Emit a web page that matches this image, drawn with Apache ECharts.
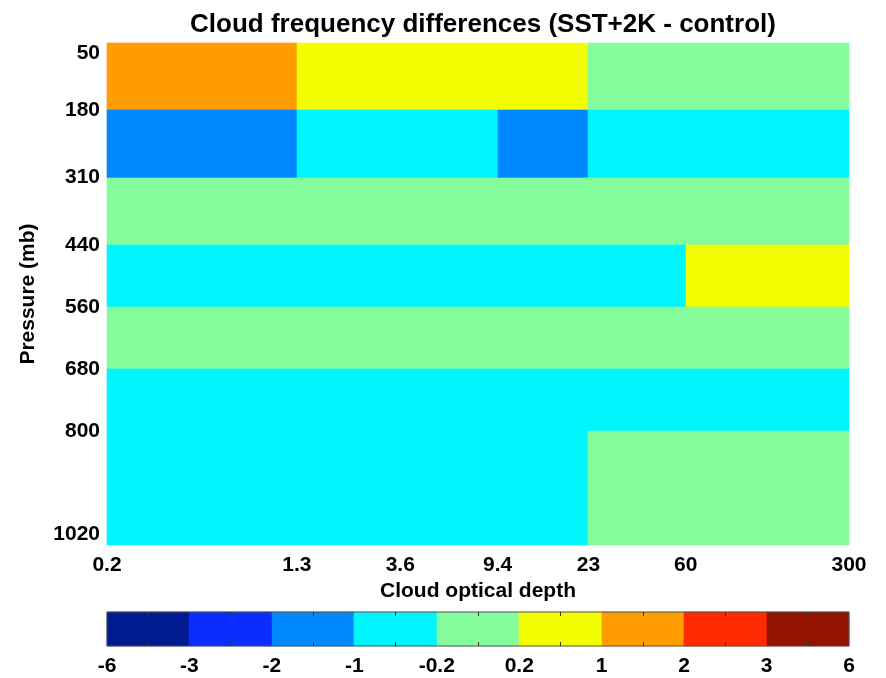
<!DOCTYPE html>
<html>
<head>
<meta charset="utf-8">
<script src="https://cdn.jsdelivr.net/npm/echarts@6/dist/echarts.min.js"></script>
<style>html,body{margin:0;padding:0;background:#fff}#c{width:886px;height:678px}</style>
</head>
<body>
<div id="c"></div>
<script>
// ---- data ----
const tauEdges = [0.2, 1.3, 3.6, 9.4, 23, 60, 300];
const tauLabels = ['0.2', '1.3', '3.6', '9.4', '23', '60', '300'];
const pressureEdges = [50, 180, 310, 440, 560, 680, 800, 1020];
const pressureLabels = ['50', '180', '310', '440', '560', '680', '800', '1020'];
// rows: top (50-180) to bottom (800-1020); columns: optical-depth bins
const row1 = [1.5, 0.5, 0.5, 0.5, 0, 0];
const row2 = [-1.5, -0.5, -0.5, -1.5, -0.5, -0.5];
const row3 = [0, 0, 0, 0, 0, 0];
const row4 = [-0.5, -0.5, -0.5, -0.5, -0.5, 0.5];
const row5 = [0, 0, 0, 0, 0, 0];
const row6 = [-0.5, -0.5, -0.5, -0.5, -0.5, -0.5];
const row7 = [-0.5, -0.5, -0.5, -0.5, 0, 0];
const diffRows = [row1, row2, row3, row4, row5, row6, row7];
const levelBounds = [-6, -3, -2, -1, -0.2, 0.2, 1, 2, 3, 6];
const levelLabels = ['-6', '-3', '-2', '-1', '-0.2', '0.2', '1', '2', '3', '6'];
const levelColors = ['#001a8f', '#0a2cff', '#0088ff', '#00f6ff', '#84fc9c', '#f2fd00', '#ff9c00', '#ff2a00', '#941300'];

// ---- build ----
const cellData = [];
diffRows.forEach((row, r) => {
  row.forEach((v, c) => {
    cellData.push([tauEdges[c], tauEdges[c + 1], pressureEdges[r], pressureEdges[r + 1], v]);
  });
});
const barData = [];
for (let i = 0; i < levelBounds.length - 1; i++) {
  barData.push([i, i + 1, 0, 1, (levelBounds[i] + levelBounds[i + 1]) / 2]);
}
const pieces = [];
for (let i = 0; i < levelColors.length; i++) {
  const p = { gte: levelBounds[i], color: levelColors[i] };
  if (i < levelColors.length - 1) p.lt = levelBounds[i + 1]; else p.lte = levelBounds[i + 1];
  pieces.push(p);
}

function renderRect(params, api) {
  const p0 = api.coord([api.value(0), api.value(2)]);
  const p1 = api.coord([api.value(1), api.value(3)]);
  const x0 = Math.round(Math.min(p0[0], p1[0])), x1 = Math.round(Math.max(p0[0], p1[0]));
  const y0 = Math.round(Math.min(p0[1], p1[1])), y1 = Math.round(Math.max(p0[1], p1[1]));
  const col = api.visual('color');
  return {
    type: 'rect',
    shape: { x: x0, y: y0, width: x1 - x0, height: y1 - y0 },
    style: { fill: col, stroke: col, lineWidth: 0.6 }
  };
}

const FONT = 'Liberation Sans';
const chart = echarts.init(document.getElementById('c'), null, { renderer: 'canvas' });
chart.setOption({
  backgroundColor: '#fff',
  animation: false,
  title: {
    text: 'Cloud frequency differences (SST+2K - control)',
    left: 478, top: 7, textAlign: 'center',
    textStyle: { fontFamily: FONT, fontWeight: 'bold', fontSize: 26, color: '#000' }
  },
  grid: [
    { left: 107, right: 37, top: 43, bottom: 133, containLabel: false },
    { left: 107, right: 37, top: 612, height: 34, show: true, borderColor: '#555', borderWidth: 1, backgroundColor: 'transparent', z: 5 }
  ],
  xAxis: [
    {
      gridIndex: 0, type: 'log', min: 0.2, max: 300,
      name: 'Cloud optical depth', nameLocation: 'middle', nameGap: 28,
      nameTextStyle: { fontFamily: FONT, fontWeight: 'bold', fontSize: 21, color: '#000' },
      axisLine: { show: false }, axisTick: { show: false }, splitLine: { show: false },
      axisLabel: {
        customValues: tauEdges, margin: 10,
        fontFamily: FONT, fontWeight: 'bold', fontSize: 21, color: '#000',
        formatter: v => { const i = tauEdges.findIndex(t => Math.abs(t - v) < 1e-6 * Math.max(1, t)); return i >= 0 ? tauLabels[i] : ''; }
      }
    },
    {
      gridIndex: 1, type: 'value', min: 0, max: levelBounds.length - 1, interval: 1, z: 10,
      axisLine: { show: false }, splitLine: { show: false },
      axisTick: { show: false, inside: true },
      minorTick: { show: true, splitNumber: 2, length: 4, lineStyle: { color: '#333', width: 1 } },
      axisLabel: {
        margin: 10, fontFamily: FONT, fontWeight: 'bold', fontSize: 21, color: '#000',
        formatter: v => levelLabels[Math.round(v)]
      }
    },
    {
      gridIndex: 1, type: 'value', position: 'top', min: 0, max: levelBounds.length - 1, interval: 1, z: 10,
      axisLine: { show: false }, splitLine: { show: false }, axisLabel: { show: false },
      axisTick: { show: false, inside: true },
      minorTick: { show: true, splitNumber: 2, length: 4, lineStyle: { color: '#333', width: 1 } }
    }
  ],
  yAxis: [
    {
      gridIndex: 0, type: 'value', inverse: true, min: 50, max: 1020,
      name: 'Pressure (mb)', nameLocation: 'middle', nameGap: 68, nameRotate: 90,
      nameTextStyle: { fontFamily: FONT, fontWeight: 'bold', fontSize: 21, color: '#000' },
      axisLine: { show: false }, axisTick: { show: false }, splitLine: { show: false },
      axisLabel: {
        customValues: pressureEdges, margin: 7,
        verticalAlignMinLabel: 'top', verticalAlignMaxLabel: 'bottom',
        fontFamily: FONT, fontWeight: 'bold', fontSize: 21, color: '#000',
        formatter: v => { const i = pressureEdges.indexOf(v); return i >= 0 ? pressureLabels[i] : ''; }
      }
    },
    {
      gridIndex: 1, type: 'value', min: 0, max: 1, show: false
    }
  ],
  visualMap: {
    type: 'piecewise', show: false, dimension: 4, seriesIndex: [0, 1], pieces: pieces
  },
  series: [
    {
      type: 'custom', xAxisIndex: 0, yAxisIndex: 0, renderItem: renderRect,
      encode: { x: [0, 1], y: [2, 3] }, data: cellData, silent: true
    },
    {
      type: 'custom', xAxisIndex: 1, yAxisIndex: 1, renderItem: renderRect,
      encode: { x: [0, 1], y: [2, 3] }, data: barData, silent: true, z: 1
    }
  ]
});
</script>
</body>
</html>
